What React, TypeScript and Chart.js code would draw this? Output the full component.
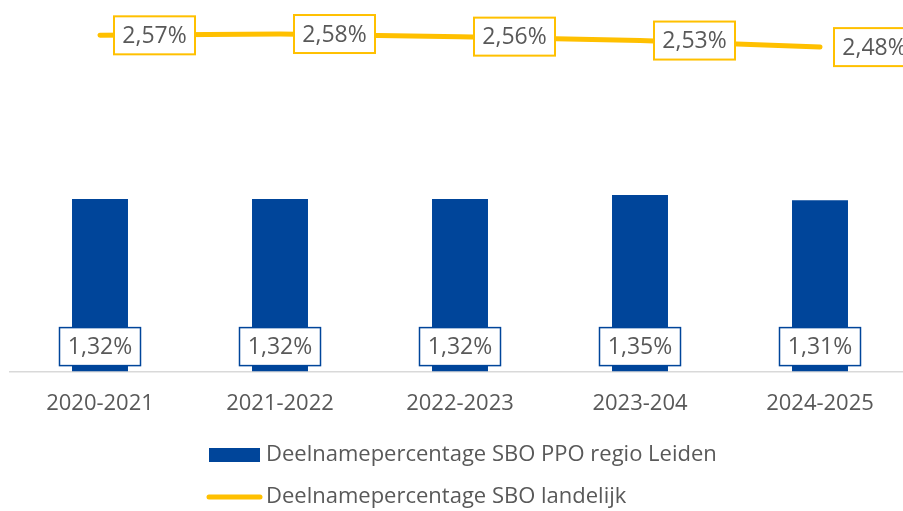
import React, { useEffect, useRef } from "react";
import { Chart, registerables } from "chart.js";

Chart.register(...registerables);

const categories = ["2020-2021", "2021-2022", "2022-2023", "2023-204", "2024-2025"];
const regioValues = [1.32, 1.32, 1.32, 1.35, 1.31];
const landelijkValues = [2.57, 2.58, 2.56, 2.53, 2.48];
const seriesNames = ["Deelnamepercentage SBO PPO regio Leiden", "Deelnamepercentage SBO landelijk"];

const BLUE = "#00459A";
const YELLOW = "#FFC000";
const TEXT = "#595959";
const FONT = "'Open Sans', 'Liberation Sans', sans-serif";

const fmt = (v: number) => v.toFixed(2).replace(".", ",") + "%";

const labelPlugin = {
  id: "boxLabels",
  afterDatasetsDraw(chart: any) {
    const ctx = chart.ctx;
    ctx.save();
    ctx.font = `23px ${FONT}`;
    ctx.textAlign = "center";
    ctx.textBaseline = "middle";
    chart.data.datasets.forEach((ds: any, di: number) => {
      const meta = chart.getDatasetMeta(di);
      meta.data.forEach((el: any, i: number) => {
        const text = fmt(ds.data[i]);
        const w = 81;
        const h = 38;
        let cx: number, cy: number;
        if (ds.type === "bar") {
          cx = el.x;
          cy = el.base - 25;
        } else {
          cx = el.x + 14 + w / 2;
          cy = el.y;
        }
        ctx.fillStyle = "#ffffff";
        ctx.fillRect(cx - w / 2, cy - h / 2, w, h);
        ctx.lineWidth = ds.type === "bar" ? 1.5 : 2;
        ctx.strokeStyle = ds.type === "bar" ? BLUE : YELLOW;
        ctx.strokeRect(cx - w / 2, cy - h / 2, w, h);
        ctx.fillStyle = TEXT;
        ctx.fillText(text, cx, cy + 1);
      });
    });
    ctx.restore();
  },
};

const legendPlugin = {
  id: "customLegend",
  afterDraw(chart: any) {
    const ctx = chart.ctx;
    ctx.save();
    ctx.font = `22px ${FONT}`;
    ctx.textAlign = "left";
    ctx.textBaseline = "middle";
    const rows = [455, 497];
    chart.data.datasets.forEach((ds: any, di: number) => {
      const y = rows[di];
      if (ds.type === "bar") {
        ctx.fillStyle = ds.backgroundColor;
        ctx.fillRect(209, y - 7, 51, 14);
      } else {
        ctx.strokeStyle = ds.borderColor;
        ctx.lineWidth = 5;
        ctx.lineCap = "round";
        ctx.beginPath();
        ctx.moveTo(209, y);
        ctx.lineTo(260, y);
        ctx.stroke();
      }
      ctx.fillStyle = TEXT;
      ctx.fillText(ds.label, 266, y);
    });
    ctx.restore();
  },
};

export default function App() {
  const ref = useRef<HTMLCanvasElement>(null);
  useEffect(() => {
    if (!ref.current) return;
    const chart = new Chart(ref.current, {
      type: "bar",
      data: {
        labels: categories,
        datasets: [
          {
            type: "bar",
            label: seriesNames[0],
            data: regioValues,
            backgroundColor: BLUE,
            barPercentage: 0.311,
            categoryPercentage: 1,
            order: 2,
          } as any,
          {
            type: "line",
            label: seriesNames[1],
            data: landelijkValues,
            borderColor: YELLOW,
            backgroundColor: YELLOW,
            borderWidth: 5,
            borderCapStyle: "round",
            pointRadius: 0,
            tension: 0,
            order: 1,
          } as any,
        ],
      },
      options: {
        responsive: false,
        animation: false,
        layout: { padding: { left: 10, right: 0, top: 0, bottom: 75 } },
        plugins: { legend: { display: false }, tooltip: { enabled: false } },
        scales: {
          x: {
            grid: { display: false, drawTicks: false },
            border: { display: true, color: "#D9D9D9", width: 1.5 },
            ticks: { color: TEXT, font: { size: 22, family: FONT }, padding: 19 },
          },
          y: { display: false, min: 0, max: 2.84 },
        },
      },
      plugins: [labelPlugin, legendPlugin],
    });
    return () => chart.destroy();
  }, []);
  return (
    <div style={{ position: "fixed", left: 0, top: 0, width: 903, height: 511, overflow: "hidden", background: "#fff" }}>
      <canvas ref={ref} width={910} height={511} style={{ display: "block" }} />
    </div>
  );
}
